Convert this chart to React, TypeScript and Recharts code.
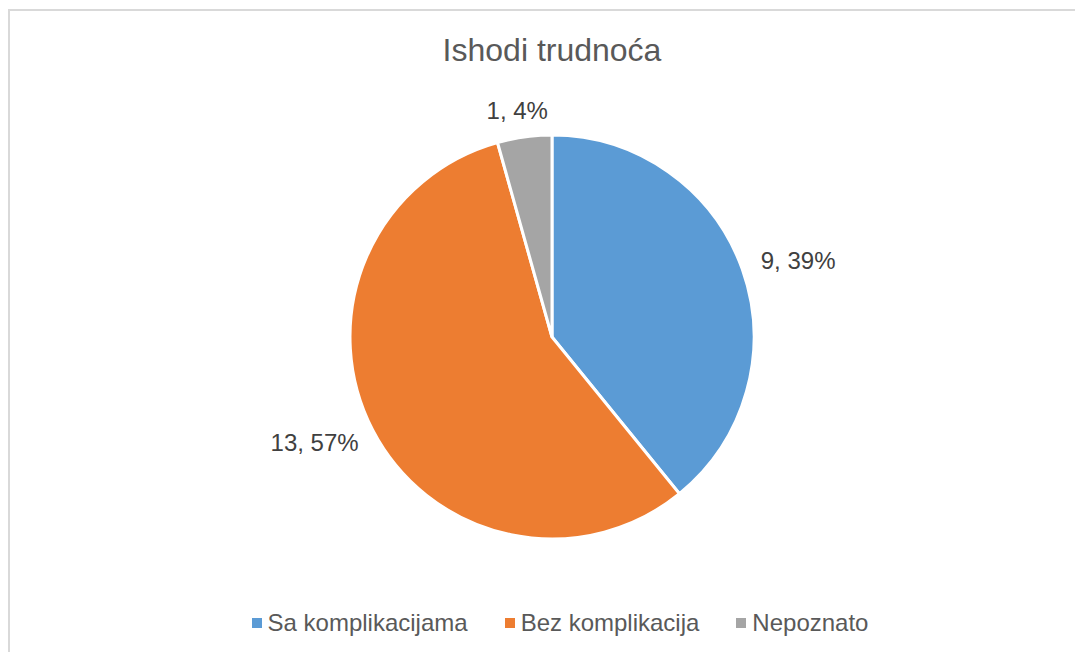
import { PieChart, Pie, Cell, Legend } from 'recharts';

const categories = ['Sa komplikacijama', 'Bez komplikacija', 'Nepoznato'];
const counts = [9, 13, 1];
const percents = [39, 57, 4];
const colors = ['#5b9bd5', '#ed7d31', '#a5a5a5'];

const data = categories.map((name, i) => ({
  name,
  value: counts[i],
  pct: percents[i],
}));

const FONT = '"Liberation Sans", Arial, sans-serif';
const RADIAN = Math.PI / 180;

const renderLabel = (props: any) => {
  const { cx, cy, midAngle, outerRadius, index } = props;
  const d = data[index];
  const text = `${d.value}, ${d.pct}%`;
  const halfW = text.length * 6.2;
  const halfH = 5;
  const dx = Math.cos(-midAngle * RADIAN);
  const dy = Math.sin(-midAngle * RADIAN);
  const r = outerRadius + 22;
  const x = cx + r * dx + dx * halfW;
  const y = cy + r * dy + dy * halfH;
  return (
    <text
      x={x}
      y={y}
      fill="#404040"
      fontSize={24}
      fontFamily={FONT}
      textAnchor="middle"
      dominantBaseline="central"
    >
      {text}
    </text>
  );
};

const renderLegend = () => (
  <div
    style={{
      display: 'flex',
      justifyContent: 'center',
      gap: 37,
      fontFamily: FONT,
      fontSize: 24,
      color: '#595959',
    }}
  >
    {data.map((d, i) => (
      <div key={d.name} style={{ display: 'flex', alignItems: 'center' }}>
        <span
          style={{
            width: 10,
            height: 10,
            background: colors[i],
            display: 'inline-block',
            marginRight: 6,
          }}
        />
        {d.name}
      </div>
    ))}
  </div>
);

export default function App() {
  return (
    <div
      style={{
        position: 'relative',
        width: 1073,
        height: 642,
        marginTop: 1,
        borderTop: '2px solid #d9d9d9',
        borderLeft: '2px solid #d9d9d9',
        background: '#fff',
      }}
    >
      <div
        style={{
          position: 'absolute',
          top: 21,
          left: 0,
          width: 1084,
          textAlign: 'center',
          fontFamily: FONT,
          fontSize: 32,
          color: '#595959',
        }}
      >
        Ishodi trudnoća
      </div>
      <PieChart width={1073} height={642} margin={{ top: 0, right: 0, bottom: 0, left: 0 }}>
        <Pie
          data={data}
          dataKey="value"
          nameKey="name"
          cx={542}
          cy={326}
          outerRadius={202}
          startAngle={90}
          endAngle={-270}
          stroke="#ffffff"
          strokeWidth={3}
          label={renderLabel}
          labelLine={false}
          isAnimationActive={false}
        >
          {data.map((d, i) => (
            <Cell key={d.name} fill={colors[i]} />
          ))}
        </Pie>
        <Legend
          content={renderLegend}
          wrapperStyle={{ position: 'absolute', top: 598, left: 8, width: 1084 }}
        />
      </PieChart>
    </div>
  );
}
